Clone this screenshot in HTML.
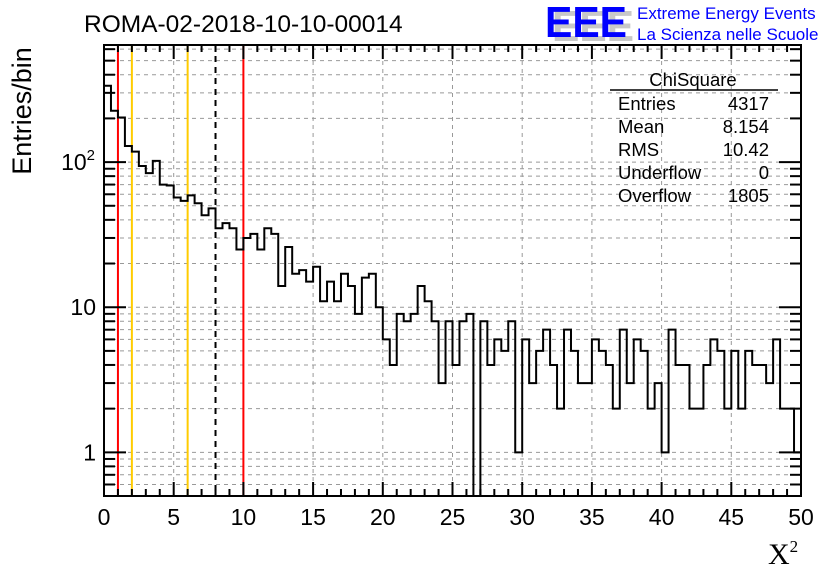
<!DOCTYPE html>
<html><head><meta charset="utf-8"><style>
body{margin:0;background:#fff}
svg{display:block;font-family:"Liberation Sans",sans-serif}
</style></head><body>
<svg id="c" width="836" height="572" viewBox="0 0 836 572" xmlns="http://www.w3.org/2000/svg">
<rect width="836" height="572" fill="#fff"/>
<g id="grid"></g>
<g id="vlines"></g>
<path id="hist" fill="none" stroke="#000" stroke-width="2"/>
<rect x="104" y="45" width="697" height="451" fill="none" stroke="#000" stroke-width="2"/>
<g id="ticks"></g>
<text x="84" y="32" font-size="24.5">ROMA-02-2018-10-10-00014</text>
<text x="31" y="111" font-size="27" transform="rotate(-90 31 111)" text-anchor="middle">Entries/bin</text>
<text x="768" y="564" font-size="30" font-family="Liberation Serif,serif">X<tspan font-size="17" dy="-12">2</tspan></text>
<g>
<text x="552" y="41" font-size="44" font-weight="bold" fill="#c8c8c8" textLength="82" lengthAdjust="spacingAndGlyphs">EEE</text>
<text x="545" y="37" font-size="44" font-weight="bold" fill="#0000ff" textLength="82" lengthAdjust="spacingAndGlyphs">EEE</text>
<text x="637" y="19" font-size="17" fill="#0000ff">Extreme Energy Events</text>
<text x="637" y="40" font-size="17" fill="#0000ff">La Scienza nelle Scuole</text>
</g>
<g font-size="18.5">
<text x="693" y="86" text-anchor="middle">ChiSquare</text>
<line x1="610" y1="90" x2="778" y2="90" stroke="#000" stroke-width="1.5"/>
<text x="618" y="110">Entries</text><text x="769" y="110" text-anchor="end">4317</text>
<text x="618" y="133">Mean</text><text x="769" y="133" text-anchor="end">8.154</text>
<text x="618" y="156">RMS</text><text x="769" y="156" text-anchor="end">10.42</text>
<text x="618" y="179">Underflow</text><text x="769" y="179" text-anchor="end">0</text>
<text x="618" y="202">Overflow</text><text x="769" y="202" text-anchor="end">1805</text>
</g>
</svg>
<script>
const binCounts=[336,226,203,129,118,94,84,102,70,69,57,54,59,52,43,48,35,38,35,25,30,32,25,35,32,14,26,17,18,15,19,11,15,11,17,14,9,16,17,10,
6,4,9,8,9,14,11,8,3,8,4,8,9,0,8,4,6,5,8,1,6,3,5,7,4,2,7,5,3,3,
6,5,4,2,7,3,6,5,2,3,1,7,4,4,2,2,4,6,5,2,5,2,5,4,4,3,6,2,2,1];
const xRange=[0,50];
const yRange=[0.5,641];
const xTickLabels=[0,5,10,15,20,25,30,35,40,45,50];
const yTickValues=[1,10,100];
const cutLines=[{x:1,color:"#ff0000",dash:""},{x:2,color:"#ffcc00",dash:""},{x:6,color:"#ffcc00",dash:""},{x:8,color:"#000",dash:"6,5"},{x:10,color:"#ff0000",dash:""}];
const L=104,R=801,T=45,B=496,NS="http://www.w3.org/2000/svg";
const X=v=>L+(v-xRange[0])/(xRange[1]-xRange[0])*(R-L);
const Y=v=>{v=Math.max(v,yRange[0]);return B-(Math.log10(v)-Math.log10(yRange[0]))/(Math.log10(yRange[1])-Math.log10(yRange[0]))*(B-T);};
function mk(tag,a,p){const e=document.createElementNS(NS,tag);for(const k in a)e.setAttribute(k,a[k]);p.appendChild(e);return e;}
const grid=document.getElementById('grid'),ticks=document.getElementById('ticks'),vl=document.getElementById('vlines');
xTickLabels.forEach(v=>{if(v>xRange[0]&&v<xRange[1]){const g=mk('line',{x1:X(v),x2:X(v),y1:T,y2:B,stroke:'#999','stroke-dasharray':'4,4'},grid);}
 const t=mk('text',{x:X(v),y:525,'font-size':23,'text-anchor':'middle'},ticks);t.textContent=v;
 });
for(let v=xRange[0];v<=xRange[1];v+=1){const big=v%5===0;
 mk('line',{x1:X(v),x2:X(v),y1:B,y2:B-(big?14:7),stroke:'#000','stroke-width':2},ticks);
 mk('line',{x1:X(v),x2:X(v),y1:T,y2:T+(big?14:7),stroke:'#000','stroke-width':2},ticks);}
for(let d=-1;d<=2;d++)for(let m=1;m<=9;m++){const v=m*Math.pow(10,d);if(v<yRange[0]||v>yRange[1])continue;
 const y=Y(v),big=m===1;
 const g=mk('line',{x1:L,x2:R,y1:y,y2:y,stroke:'#999','stroke-dasharray':'4,4'},grid);
 
 mk('line',{x1:L,x2:L+(big?22:11),y1:y,y2:y,stroke:'#000','stroke-width':2},ticks);
 mk('line',{x1:R,x2:R-(big?22:11),y1:y,y2:y,stroke:'#000','stroke-width':2},ticks);}
yTickValues.forEach(v=>{const t=mk('text',{x:v===100?95:96,y:Y(v)+8,'font-size':23,'text-anchor':'end'},ticks);
 if(v===100){t.textContent='10';const s=mk('tspan',{'font-size':15,dy:-10},t);s.textContent='2';}else t.textContent=v;
 });
cutLines.forEach(c=>{const l=mk('line',{x1:X(c.x),x2:X(c.x),y1:T,y2:B,stroke:c.color,'stroke-width':2,'stroke-dasharray':c.dash},vl);
 });
const w=(xRange[1]-xRange[0])/binCounts.length;let d='M'+X(xRange[0])+','+B;
binCounts.forEach((c,i)=>{const y=c>0?Y(c):B;d+=' L'+X(i*w)+','+y+' L'+X((i+1)*w)+','+y;});
d+=' L'+X(xRange[1])+','+B;
document.getElementById('hist').setAttribute('d',d);
</script>
</body></html>
